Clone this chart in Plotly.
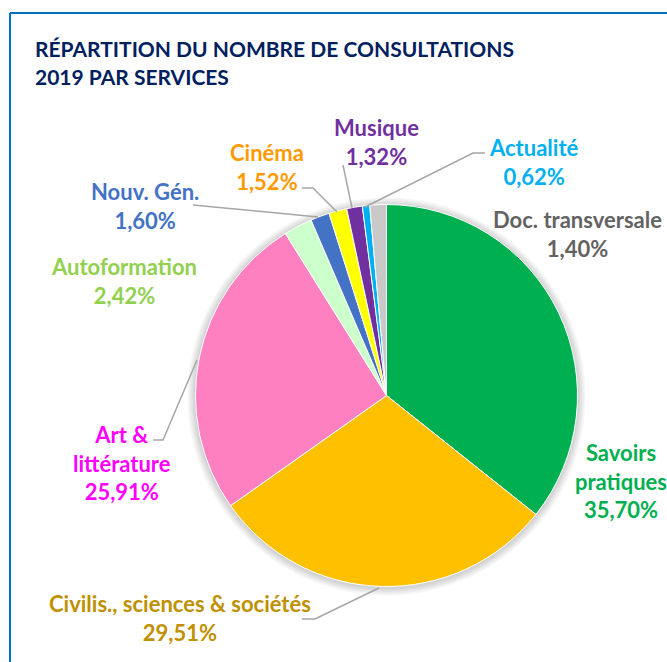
import plotly.graph_objects as go

# ---- data ----
categories = ["Savoirs pratiques", "Civilis., sciences & sociétés", "Art & littérature",
              "Autoformation", "Nouv. Gén.", "Cinéma", "Musique", "Actualité", "Doc. transversale"]
label_lines = ["Savoirs<br>pratiques", "Civilis., sciences & sociétés", "Art &<br>littérature",
               "Autoformation", "Nouv. Gén.", "Cinéma", "Musique", "Actualité", "Doc. transversale"]
values = [35.70, 29.51, 25.91, 2.42, 1.60, 1.52, 1.32, 0.62, 1.40]
title_lines = ["RÉPARTITION DU NOMBRE DE CONSULTATIONS", "2019 PAR SERVICES"]

# ---- styles ----
slice_colors = ["#00B050", "#FFC000", "#FF80C0", "#CCFFCC", "#4472C4",
                "#FFFF00", "#7030A0", "#00B0F0", "#C9C9C9"]
text_colors = ["#00B050", "#BF9000", "#FF00FF", "#92D050", "#4472C4",
               "#FF9900", "#7030A0", "#00B0F0", "#636363"]
# label centres in pixels (layout)
label_pos = [(621, 481), (180, 618), (122, 463), (124, 281), (145, 206),
             (267, 167), (377, 142), (533, 162), (577, 234)]
leaders = [None,
           [(302, 619), (315, 619), (379, 588)],
           [(153, 440), (163, 440), (197, 360)],
           None,
           [(193, 205), (318, 217)],
           [(302, 188), (313, 188), (337, 212)],
           [(343, 165), (352, 208)],
           [(485, 153), (473, 153), (365, 207)],
           None]

W, H = 667, 662
FONT = "Lato"
cx, cy, r = 386.5, 395.5, 191.0


def px(x):
    return x / W


def py(y):
    return 1 - y / H


def fmt_pct(v):
    return f"{v:.2f}".replace(".", ",") + "%"


fig = go.Figure(go.Pie(
    labels=categories, values=values, sort=False, direction="clockwise", rotation=0,
    marker=dict(colors=slice_colors, line=dict(color="white", width=1)),
    textinfo="none", hole=0, showlegend=False,
    domain=dict(x=[px(cx - r), px(cx + r)], y=[py(cy + r), py(cy - r)]),
))

shapes = []
# soft shadow around pie
for k in range(5, 0, -1):
    rr = r + k * 1.6
    shapes.append(dict(type="circle", xref="paper", yref="paper", layer="below",
                       x0=px(cx - rr), x1=px(cx + rr), y0=py(cy + rr + 1), y1=py(cy - rr + 1),
                       fillcolor="rgba(0,0,0,0.035)", line=dict(width=0)))
# frame
shapes.append(dict(type="line", xref="paper", yref="paper", x0=px(10), x1=1, y0=py(13), y1=py(13),
                   line=dict(color="#0070C0", width=2)))
shapes.append(dict(type="line", xref="paper", yref="paper", x0=px(10), x1=px(10), y0=py(13), y1=0,
                   line=dict(color="#0070C0", width=2)))
# leader lines
for pts in leaders:
    if pts:
        path = "M " + " L ".join(f"{px(x)},{py(y)}" for x, y in pts)
        shapes.append(dict(type="path", xref="paper", yref="paper", path=path,
                           line=dict(color="#A6A6A6", width=1.5)))

annotations = []
for i, (name, v) in enumerate(zip(label_lines, values)):
    x, y = label_pos[i]
    txt = f"{name}<br>{fmt_pct(v)}"
    annotations.append(dict(x=px(x), y=py(y), xref="paper", yref="paper", text=f"<b>{txt}</b>",
                            showarrow=False, xanchor="center", yanchor="middle", align="center",
                            font=dict(family=FONT, size=22, color=text_colors[i])))
# title
for j, (t, ty) in enumerate(zip(title_lines, [48, 77])):
    annotations.append(dict(x=px(33), y=py(ty), xref="paper", yref="paper", text=f"<b>{t}</b>",
                            showarrow=False, xanchor="left", yanchor="middle", align="left",
                            font=dict(family=FONT, size=21, color="#002060")))

fig.update_layout(width=W, height=H, margin=dict(l=0, r=0, t=0, b=0),
                  paper_bgcolor="white", plot_bgcolor="white",
                  shapes=shapes, annotations=annotations)
fig.write_html("out.html", config={"displayModeBar": False},
               post_script="document.body.style.margin='0';document.body.style.padding='0';")
